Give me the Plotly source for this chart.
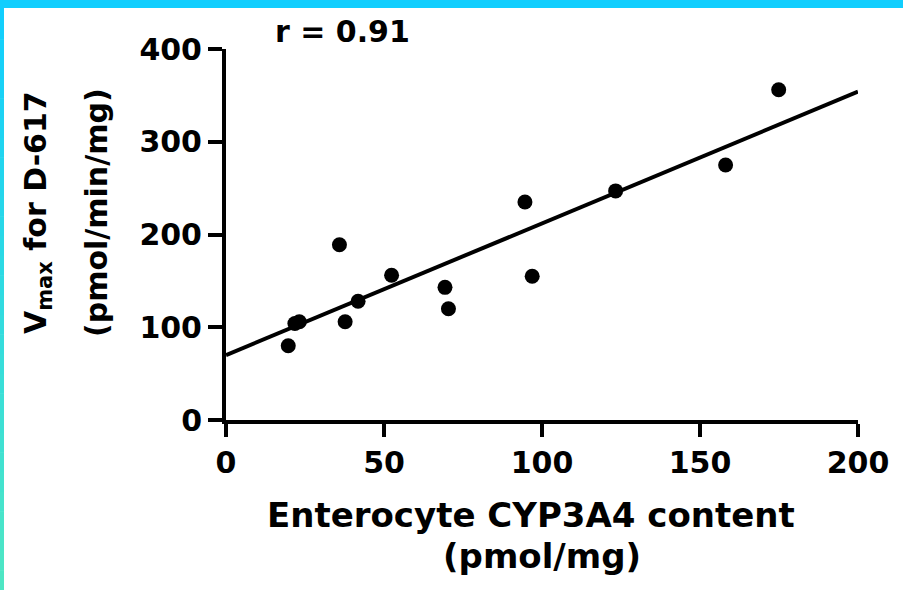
import plotly.graph_objects as go

# Data
cyp3a4 = [19.7, 21.8, 23.2, 37.7, 35.9, 41.8, 52.4, 69.3, 70.4, 94.6, 96.9, 123.3, 158.1, 174.9]
vmax = [80, 104, 106, 106, 189, 128, 156, 143, 120, 235, 155, 247, 275, 356]
fit_x = [0, 200]
fit_y = [70, 354]
x_ticks = [0, 50, 100, 150, 200]
y_ticks = [0, 100, 200, 300, 400]

W, H = 903, 590
L, R, T, B = 226, 45, 49, 170
PW, PH = W - L - R, H - T - B

FONT = "DejaVu Sans"

fig = go.Figure()
fig.add_trace(go.Scatter(x=fit_x, y=fit_y, mode="lines",
                         line=dict(color="black", width=4), hoverinfo="skip",
                         cliponaxis=False))
fig.add_trace(go.Scatter(x=cyp3a4, y=vmax, mode="markers",
                         marker=dict(color="black", size=15, line=dict(width=0)),
                         cliponaxis=False))

def px_x(px):
    return (px - L) / PW

def px_y(py):
    return 1 - (py - T) / PH

ann_font = dict(family=FONT, size=30, color="black", weight="bold")
xt_font = dict(family=FONT, size=34, color="black", weight="bold")
annotations = [
    dict(text="r = 0.91", x=px_x(342), y=px_y(31), font=ann_font),
    dict(text="Enterocyte CYP3A4 content", x=px_x(531), y=px_y(515), font=xt_font),
    dict(text="(pmol/mg)", x=px_x(542), y=px_y(556), font=xt_font),
    dict(text="V<sub>max</sub> for D-617", x=px_x(38), y=px_y(213), textangle=-90, font=ann_font),
    dict(text="(pmol/min/mg)", x=px_x(97), y=px_y(213), textangle=-90, font=ann_font),
]
for a in annotations:
    a.update(xref="paper", yref="paper", showarrow=False,
             xanchor="center", yanchor="middle")

# cyan frame (top band + left band with vertical gradient)
shapes = [dict(type="rect", xref="paper", yref="paper",
               x0=px_x(0), x1=px_x(W), y0=px_y(8), y1=px_y(0),
               fillcolor="rgb(17,206,254)", line=dict(width=0), layer="above")]
n = 30
c0 = (17, 206, 254)
c1 = (78, 230, 196)
for i in range(n):
    t = i / (n - 1)
    col = tuple(round(c0[k] + (c1[k] - c0[k]) * t) for k in range(3))
    shapes.append(dict(type="rect", xref="paper", yref="paper",
                       x0=px_x(0), x1=px_x(4),
                       y0=px_y(H * (i + 1) / n + 0.5), y1=px_y(H * i / n),
                       fillcolor="rgb(%d,%d,%d)" % col, line=dict(width=0), layer="above"))

tick_font = dict(family=FONT, size=30, color="black", weight="bold")
fig.update_layout(
    width=W, height=H,
    margin=dict(l=L, r=R, t=T, b=B, pad=0),
    paper_bgcolor="white", plot_bgcolor="white",
    showlegend=False,
    annotations=annotations,
    shapes=shapes,
    xaxis=dict(range=[0, 200], tickvals=x_ticks, ticktext=[str(v) for v in x_ticks],
               showgrid=False, zeroline=False, showline=True, linecolor="black",
               linewidth=4, ticks="outside", ticklen=13, tickwidth=4, tickcolor="black",
               tickfont=tick_font, fixedrange=True),
    yaxis=dict(range=[0, 400], tickvals=y_ticks, ticktext=[str(v) for v in y_ticks],
               showgrid=False, zeroline=False, showline=True, linecolor="black",
               linewidth=4, ticks="outside", ticklen=14, tickwidth=4, tickcolor="black",
               tickfont=tick_font, fixedrange=True),
)

fig.write_html("out.html")
